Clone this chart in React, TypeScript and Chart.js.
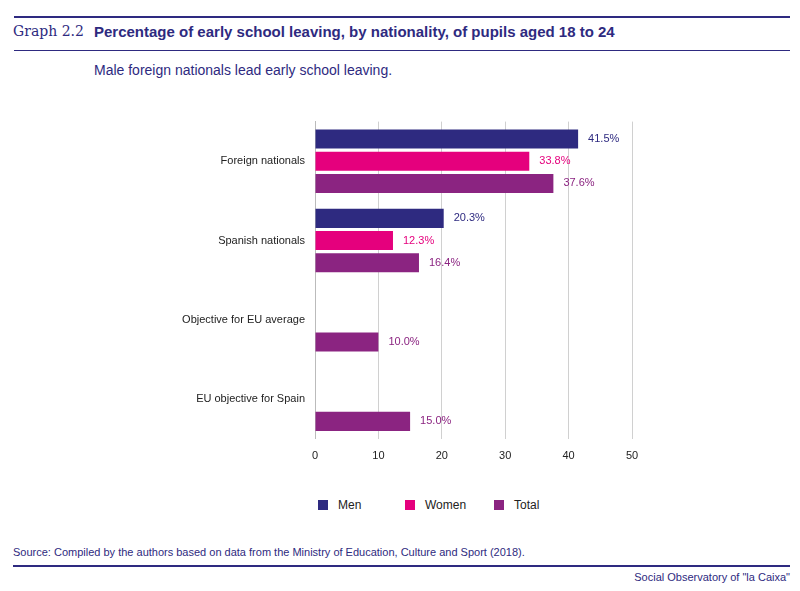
import React, { useEffect, useRef } from "react";
import { Chart, registerables } from "chart.js";
Chart.register(...registerables);

const categories = ["Foreign nationals", "Spanish nationals", "Objective for EU average", "EU objective for Spain"];
const men = [41.5, 20.3, null, null];
const women = [33.8, 12.3, null, null];
const total = [37.6, 16.4, 10.0, 15.0];
const seriesNames = ["Men", "Women", "Total"];
const colors = ["#2e2a80", "#e5007d", "#8b2481"];
const xTicks = [0, 10, 20, 30, 40, 50];

const NAVY = "#2e2a80";
const FONT = "'Liberation Sans', Arial, sans-serif";

const labelPlugin = {
  id: "valLabels",
  afterDatasetsDraw(chart: any) {
    const ctx = chart.ctx;
    ctx.save();
    ctx.font = `11px ${FONT}`;
    ctx.textBaseline = "middle";
    chart.data.datasets.forEach((ds: any, i: number) => {
      const meta = chart.getDatasetMeta(i);
      meta.data.forEach((el: any, j: number) => {
        const v = ds.data[j];
        if (v == null) return;
        ctx.fillStyle = colors[i];
        ctx.fillText(v.toFixed(1) + "%", el.x + 10, el.y);
      });
    });
    ctx.restore();
  },
};

export default function App() {
  const ref = useRef<HTMLCanvasElement>(null);
  useEffect(() => {
    const c = new Chart(ref.current!, {
      type: "bar",
      data: {
        labels: categories,
        datasets: [men, women, total].map((d, i) => ({
          label: seriesNames[i],
          data: d as any,
          backgroundColor: colors[i],
          categoryPercentage: 0.84,
          barPercentage: 0.86,
        })),
      },
      options: {
        indexAxis: "y",
        animation: false,
        responsive: false,
        layout: { padding: { top: 2, right: 168 } },
        plugins: { legend: { display: false }, tooltip: { enabled: false } },
        scales: {
          x: {
            min: 0, max: 50,
            afterBuildTicks: (s: any) => { s.ticks = xTicks.map((v) => ({ value: v })); },
            grid: { color: "#d0d0d0", drawTicks: false },
            border: { display: false },
            ticks: { color: "#222", font: { family: FONT, size: 11 }, padding: 11 },
          },
          y: {
            afterFit: (s: any) => { s.width = 315; },
            grid: { display: false },
            border: { color: "#bbb" },
            ticks: { color: "#222", font: { family: FONT, size: 11 }, padding: 2 },
          },
        },
      },
      plugins: [labelPlugin],
    });
    return () => c.destroy();
  }, []);

  const abs = (s: React.CSSProperties): React.CSSProperties => ({ position: "absolute", ...s });
  return (
    <div style={{ position: "absolute", left: 0, top: 0, width: 800, height: 591, background: "#fff", fontFamily: FONT, overflow: "hidden" }}>
      <div style={abs({ left: 14, right: 10, top: 16, height: 2, background: NAVY })} />
      <div style={abs({ left: 13, top: 23, fontFamily: "'DejaVu Serif', serif", fontSize: 14, color: NAVY })}>Graph 2.2</div>
      <div style={abs({ left: 94, top: 23, fontSize: 15, fontWeight: "bold", color: NAVY })}>Percentage of early school leaving, by nationality, of pupils aged 18 to 24</div>
      <div style={abs({ left: 14, right: 10, top: 50, height: 1, background: NAVY })} />
      <div style={abs({ left: 94, top: 62, fontSize: 14, color: NAVY })}>Male foreign nationals lead early school leaving.</div>
      <canvas ref={ref} width={800} height={361} style={abs({ left: 0, top: 113 })} />
      {seriesNames.map((n, i) => (
        <div key={n} style={abs({ left: [318, 405, 494][i], top: 498, display: "flex", alignItems: "center", fontSize: 12, color: "#222" })}>
          <span style={{ width: 10, height: 10, background: colors[i], display: "inline-block", marginRight: 10 }} />{n}
        </div>
      ))}
      <div style={abs({ left: 13, top: 546, fontSize: 11, color: NAVY })}>Source: Compiled by the authors based on data from the Ministry of Education, Culture and Sport (2018).</div>
      <div style={abs({ left: 13, right: 10, top: 565, height: 2, background: NAVY })} />
      <div style={abs({ right: 10, top: 571, fontSize: 11, color: NAVY })}>Social Observatory of "la Caixa"</div>
    </div>
  );
}
